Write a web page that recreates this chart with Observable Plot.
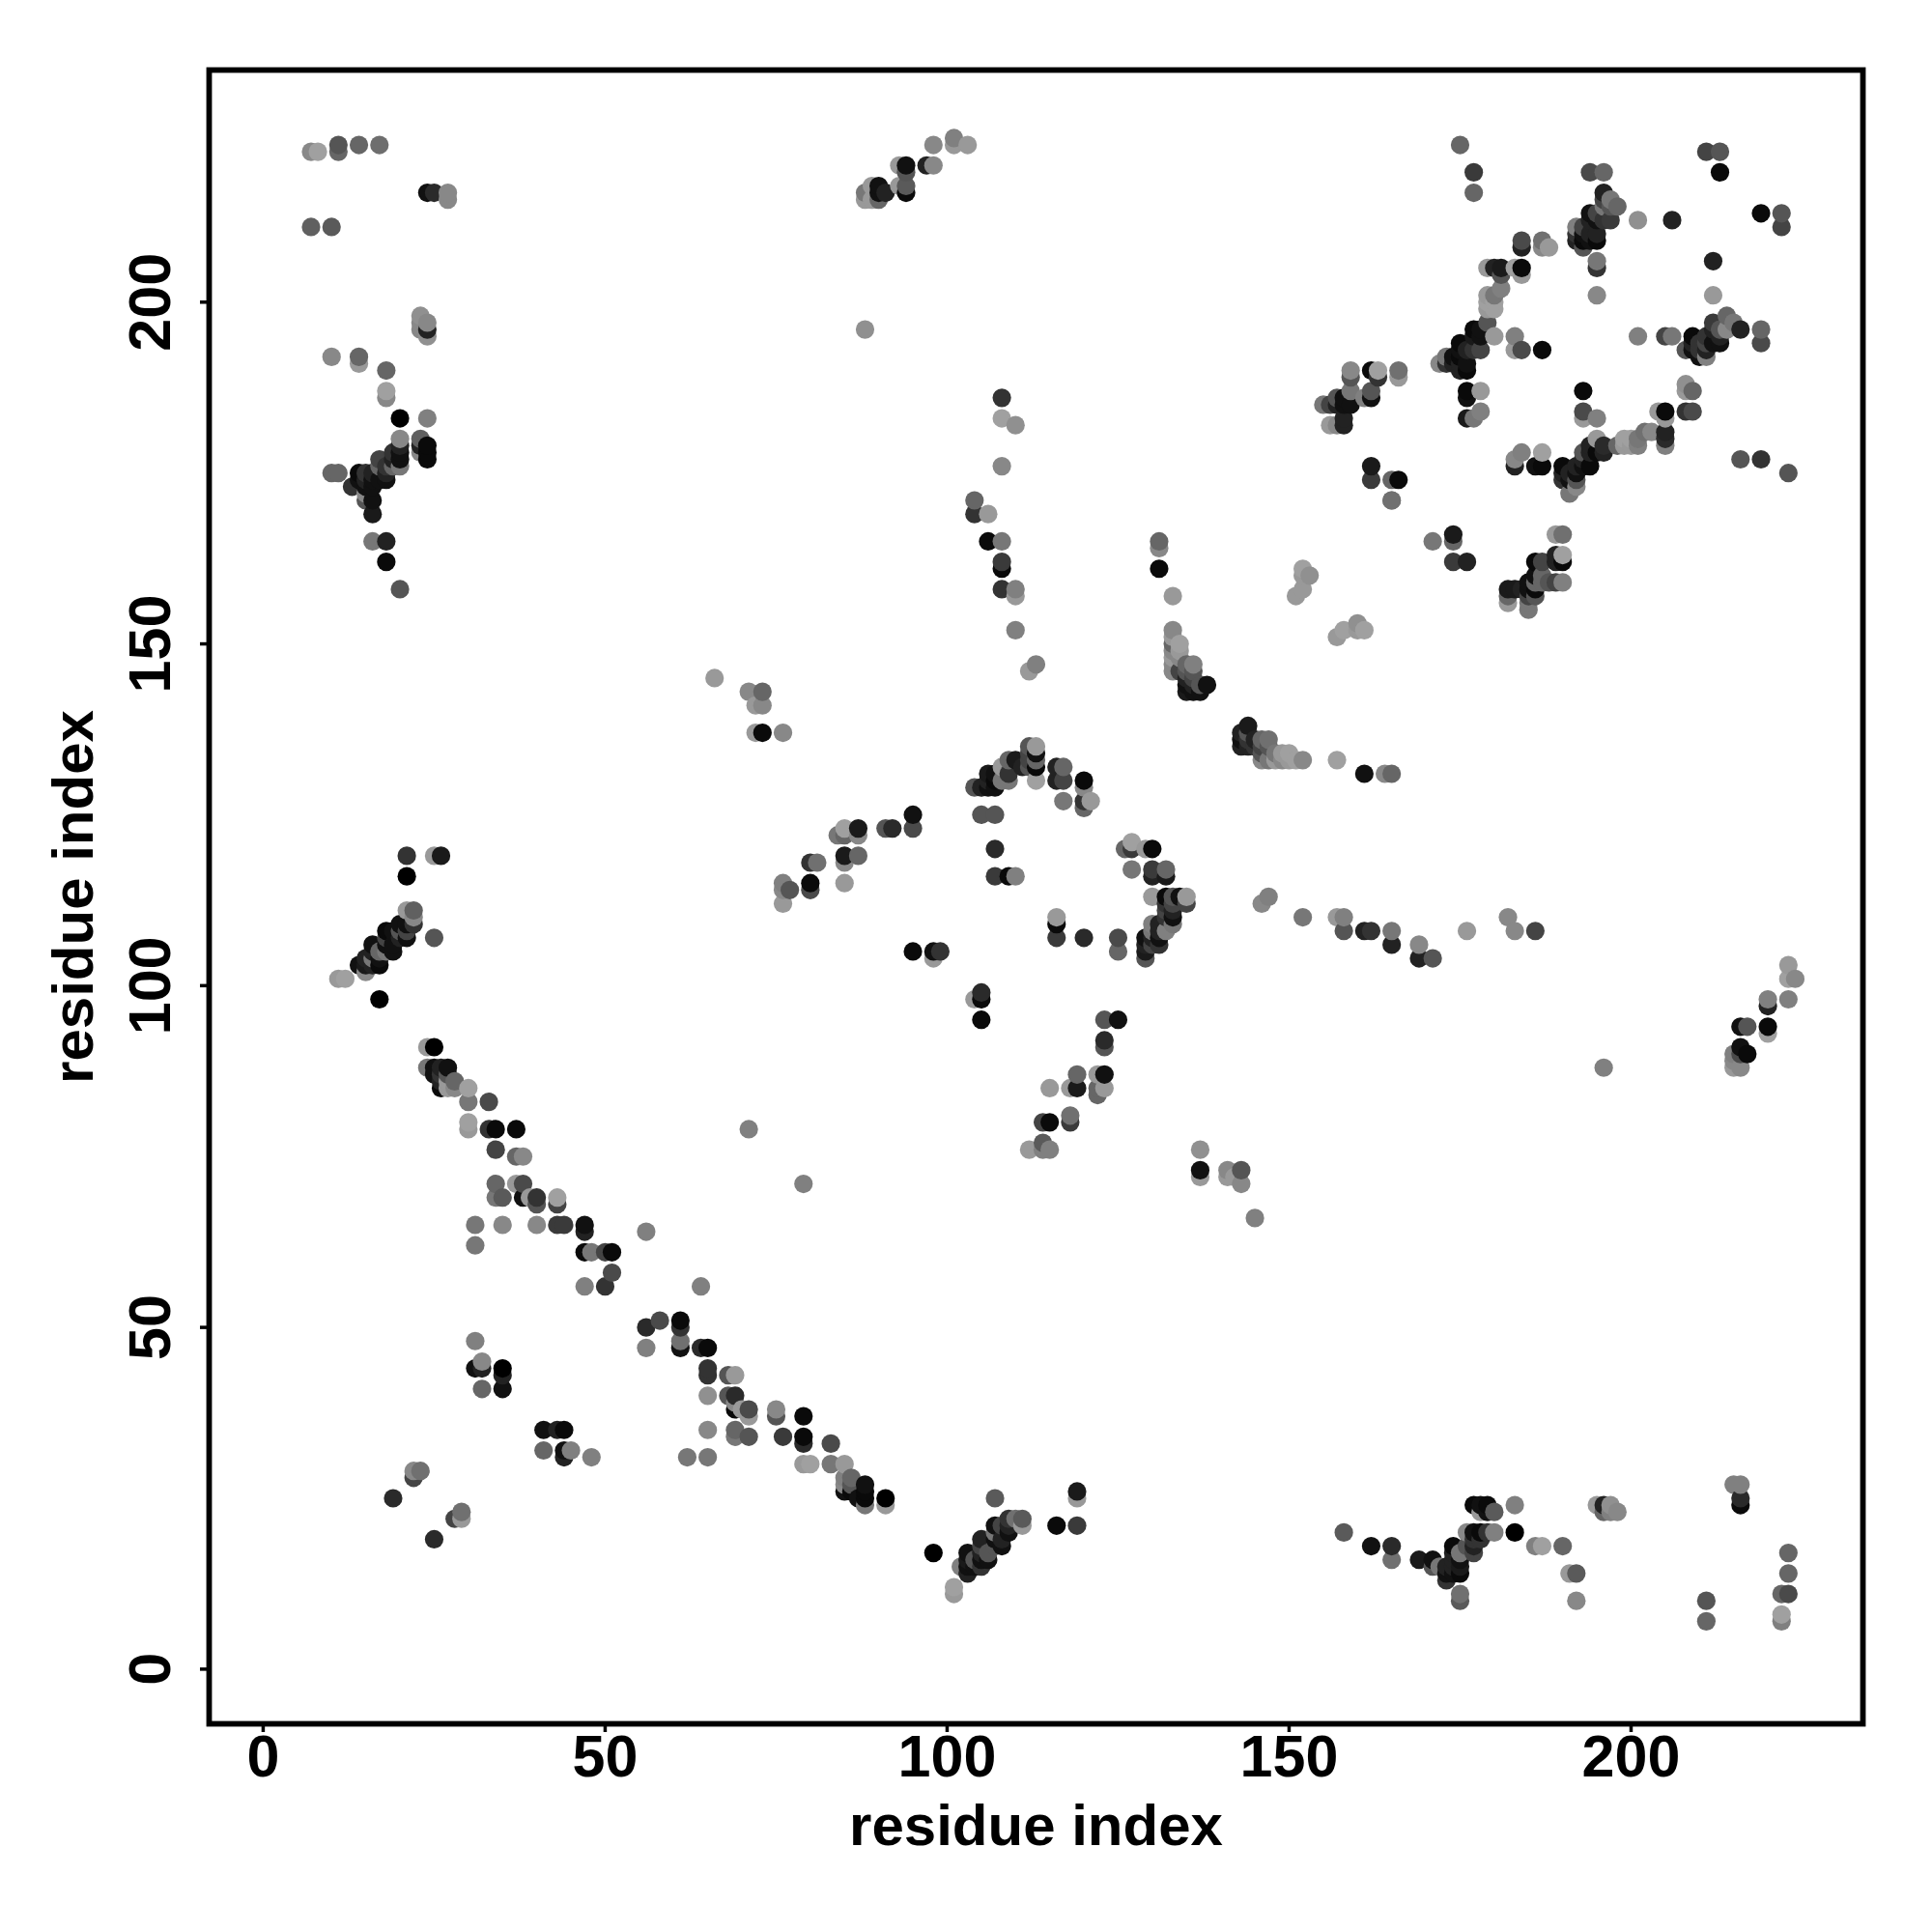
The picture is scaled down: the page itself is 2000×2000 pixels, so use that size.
<!DOCTYPE html>
<html><head><meta charset="utf-8">
<style>html,body{margin:0;padding:0;background:#fff}svg{display:block}</style>
<script src="https://cdn.jsdelivr.net/npm/d3@7"></script>
<script src="https://cdn.jsdelivr.net/npm/@observablehq/plot@0.6"></script>
</head><body><div id="chart"></div>
<script>
const axisTitle = "residue index";
const tickValues = [0, 50, 100, 150, 200];
// each contact: [residue x, residue y, grey level 0-255]
const topLeft = [[7,222,136],[8,222,160],[11,222,102],[11,223,85],[14,223,102],[17,223,110],[24,216,17],[25,216,42],[27,215,136],[27,216,136],[7,211,96],[10,211,90],
[23,198,144],[23,197,136],[23,196,136],[24,195,144],[24,196,34],[24,197,136],[10,192,136],[14,191,153],[14,192,102],[18,190,102],[18,186,136],[18,187,160]];
const leftArm = [[20,183,0],[24,183,128],[20,180,136],[23,180,96],[23,179,34],[23,178,136],[24,177,10],[24,178,10],[24,179,10],[19,178,51],[19,177,34],[20,176,119],[20,177,17],[20,178,17],[20,179,34],
[17,177,68],[17,176,102],[18,176,51],[18,175,34],[18,174,17],[19,176,102],[10,175,102],[11,175,102],[14,175,10],[15,175,51],[13,173,51],[14,174,17],[15,174,34],[15,173,17],[16,175,34],[16,174,17],[17,174,17],[16,173,17],
[15,172,136],[15,171,85],[16,171,17],[16,169,26],[16,165,119],[18,165,34],[18,162,10],[20,158,85]];
const helixLeft = [[21,119,51],[25,119,153],[26,119,26],[21,116,0],[21,111,153],[22,111,96],[22,110,136],[22,109,51],[21,109,17],[21,108,68],[21,107,17],[20,109,17],[20,108,85],[20,107,34],
[18,108,10],[19,108,17],[19,106,17],[19,105,17],[18,107,68],[18,106,17],[16,106,17],[17,105,102],[16,105,34],[18,105,119],[17,104,17],[16,104,119],[15,104,34],[14,103,17],[15,103,26],[17,103,10],[16,103,34],[15,102,136],[11,101,153],[12,101,160],[25,107,85],[17,98,0]];
const diagonalA = [[24,91,153],[25,91,0],[24,88,119],[25,88,17],[26,88,34],[27,88,17],[25,87,17],[26,87,51],[27,87,85],[26,85,10],[27,86,153],[26,86,34],[28,86,102],[28,85,136],[27,85,153],[30,85,160],[30,83,119],[33,83,74],
[30,80,160],[30,79,153],[33,79,51],[34,79,10],[37,79,10],[71,79,128],[34,76,68],[37,75,102],[38,75,136],[34,71,102],[37,71,153],[38,71,74],[79,71,128],[34,69,119],[35,69,90],[38,69,17],[39,69,153],[40,69,51],[40,68,85],[43,69,160],[43,68,68],
[31,65,119],[35,65,136],[40,65,136],[43,65,58],[44,65,58],[47,65,17],[47,64,34],[56,64,128],[31,62,119],[47,61,10],[48,61,119],[50,61,68],[51,61,10],[51,58,74],[47,56,128],[50,56,51],[64,56,128]];
const diagonalB = [[56,50,42],[58,51,74],[61,51,10],[61,50,51],[61,48,112],[61,47,17],[56,47,128],[64,47,42],[65,47,10],[65,44,51],[65,43,51],[68,43,85],[69,43,153],[65,40,144],[68,40,85],[69,40,42],[69,39,136],[69,38,10],[70,38,153],[71,38,74],[71,37,153],
[65,35,136],[69,35,102],[69,34,119],[71,34,85],[62,31,119],[65,31,119],[75,38,136],[75,37,85],[76,34,58],[79,37,10],[79,34,10],[79,33,42],[83,33,74],[79,30,153],[80,30,160],[83,30,119],[85,30,153],
[85,28,128],[86,28,102],[85,27,136],[86,27,85],[85,26,17],[86,26,10],[87,25,17],[88,27,17],[88,26,10],[88,25,10],[88,24,119],[91,25,0],[91,24,153]];
const lowerLeft = [[31,48,128],[32,45,136],[31,44,17],[32,44,34],[35,44,0],[35,43,34],[35,41,17],[32,41,102],[41,35,17],[43,35,34],[44,35,10],[41,32,102],[44,32,17],[45,32,128],[44,31,34],[48,31,128],[22,29,136],[23,29,112],[22,28,68],[19,25,42],[29,23,112],[28,22,68],[29,22,153],[25,19,42]];
const lowerMiddle = [[98,17,0],[101,12,160],[101,11,153],[102,15,128],[103,17,17],[103,16,26],[103,15,17],[103,14,34],[104,15,17],[104,16,85],[105,19,34],[105,18,68],[105,17,34],[105,16,17],[105,15,51],[106,16,17],[106,17,85],[107,21,17],[107,20,119],[107,19,17],[107,18,85],[107,25,90],[108,18,17],[108,19,34],[108,21,68],[109,22,51],[109,20,17],[109,21,34],[110,22,112],[111,22,90],[111,21,153],[116,21,10],[119,21,58],[119,26,26],[119,25,153]];
const lowerRight = [[158,20,90],[162,18,17],[165,18,42],[165,16,112],[169,16,26],[171,16,17],[171,15,85],[172,15,119],[173,14,17],[173,15,34],[173,13,51],[174,18,10],[174,17,34],[174,16,34],[174,15,34],[174,14,17],[175,14,10],[175,15,26],[175,16,17],[175,17,119],[175,11,112],[175,10,90],
[176,18,85],[177,17,68],[177,18,34],[177,20,17],[176,20,136],[177,19,51],[178,20,10],[178,19,51],[179,20,51],[180,20,128],[183,20,0],[183,24,128],[177,24,10],[178,24,17],[179,24,10],[178,23,153],[179,23,17],[180,23,90],
[186,18,128],[187,18,160],[190,18,102],[191,14,153],[192,14,90],[192,10,136],[195,24,153],[196,24,34],[196,23,102],[197,24,144],[197,23,128],[198,23,136],[215,27,128],[216,27,128],[216,25,42],[216,24,10],[211,10,85],[211,7,102],[223,17,102],[223,14,102],[222,11,102],[223,11,74],[222,8,160],[222,7,128]];
const centralLeft = [[72,137,153],[73,137,10],[76,137,136],[76,115,128],[76,114,136],[77,114,85],[76,112,153],[80,118,51],[81,118,112],[80,115,10],[80,114,74],[84,122,119],[85,122,102],[85,123,160],[87,123,26],[87,122,136],[85,119,26],[85,118,136],[87,119,102],[85,115,153],[91,123,85],[92,123,42],[95,125,17],[95,123,74],
[95,105,10],[98,105,17],[98,104,153],[99,105,51],[104,98,153],[105,99,42],[105,98,10],[105,95,10],[66,145,153],[71,143,136],[72,141,153],[73,143,102],[73,141,136]];
const centralArc = [[107,120,42],[107,116,58],[109,116,10],[110,116,128],[105,125,85],[107,125,85],[104,129,85],[105,129,34],[106,129,17],[107,129,17],[106,130,34],[107,130,10],[106,131,26],[107,131,17],[108,130,119],[109,130,119],[108,132,153],[109,131,51],[109,133,102],[110,133,26],[111,132,34],[112,135,85],[112,134,68],[112,133,68],[112,132,85],[113,135,153],[113,134,17],[113,133,102],[113,132,10],[113,130,160],
[116,132,34],[117,132,102],[116,130,34],[117,130,68],[117,127,119],[120,130,10],[120,129,136],[120,127,51],[120,126,102],[121,127,153]];
const centralRing = [[126,120,102],[127,121,160],[127,120,58],[129,120,153],[130,120,10],[127,117,119],[130,117,58],[130,116,34],[132,117,102],[132,116,26],[130,113,153],[132,113,10],[133,113,85],[134,113,17],[135,113,153],[135,112,68],[132,112,51],[133,112,68],[132,111,68],[133,111,34],[133,110,17],[132,110,51],[133,109,119],[130,109,128],[131,109,34],[132,108,128],[131,108,34],[130,108,119],[129,107,17],[130,107,34],[131,107,17],[129,106,34],[130,106,68],[131,106,51],[129,105,26],[129,104,85],
[116,110,153],[116,109,10],[116,107,58],[120,107,42],[125,107,74],[125,105,102]];
const centralLower = [[123,95,85],[125,95,17],[123,92,42],[123,91,85],[119,87,102],[122,87,153],[123,87,17],[118,85,153],[119,85,26],[122,85,102],[123,85,153],[122,84,102],[115,85,153],[118,81,112],[118,80,58],[114,80,68],[115,80,10],[112,76,153],[114,77,90],[114,76,128],[115,76,128],[137,76,144],[137,73,17],[137,72,153],[141,73,136],[141,72,153],[142,72,153],[143,73,85],[143,71,136],[145,66,128]];
const midRow = [[146,112,136],[147,113,128],[152,110,119],[157,110,153],[158,110,128],[158,108,85],[161,108,34],[162,108,51],[165,108,119],[165,106,34],[169,106,136],[169,104,34],[171,104,85],[176,108,153],[182,110,136],[183,108,136],[186,108,68],[196,88,128]];
const rightEdge = [[223,103,153],[223,98,128],[224,101,136],[223,101,160],[220,98,128],[220,97,34],[216,94,17],[217,94,85],[220,94,10],[220,93,160],[215,90,128],[216,91,17],[217,90,10],[215,89,136],[215,88,153],[216,88,136],[216,90,74]];
const strandMiddle = [[131,165,102],[131,164,136],[131,161,10],[133,157,153],[133,152,136],[134,150,160],[133,151,153],[133,150,102],[133,149,136],[133,148,153],[133,147,136],[133,146,136],[134,149,153],[134,148,136],[135,147,102],[136,147,128],[134,146,68],[135,146,85],[136,146,85],[135,145,34],[136,145,68],[135,144,17],[136,144,34],[137,144,85],[135,143,26],[136,143,17],[137,143,17],[138,144,17],
[113,147,128],[112,146,153],[110,152,128],[110,158,128],[110,157,153],[108,158,51],[108,162,58],[108,161,10],[108,165,119],[106,165,10],[106,169,153],[104,171,102],[104,169,51],[108,186,51],[108,183,160],[110,182,144],[108,176,136],
[151,157,153],[152,158,153],[152,161,160],[153,160,144],[152,160,153],[157,151,153],[158,152,160],[160,153,144],[161,152,160],[160,152,153]];
const strandRight = [[144,138,26],[143,137,34],[144,137,85],[143,136,17],[144,136,51],[143,135,34],[144,135,34],[145,136,34],[146,136,102],[147,136,112],[145,135,51],[146,135,68],[147,135,85],[146,134,85],[148,134,119],[149,134,153],[150,134,160],[146,133,136],[147,133,119],[148,133,153],[149,133,136],[150,133,153],[151,133,160],[152,133,136],[157,133,160],[161,131,17],[164,131,136],[165,131,102],
[171,165,119],[174,166,26],[174,165,102],[174,162,58],[176,162,34],[165,171,112]];
const topMiddle = [[98,223,136],[101,224,128],[101,223,153],[103,223,153],[97,220,34],[98,220,136],[93,220,153],[94,220,17],[94,219,85],[93,217,153],[94,217,90],[94,216,10],[90,217,17],[91,216,34],[90,216,17],[89,217,153],[89,215,153],[90,215,102],[88,216,119],[88,215,153],[88,196,144]];
const upperRightA = [[175,223,102],[177,219,58],[177,216,102],[211,222,68],[213,222,85],[213,219,10],[194,219,74],[196,219,102],[196,216,34],[197,215,119],[198,214,102],[196,215,68],[196,214,119],[197,214,85],[197,212,58],[194,213,17],[195,212,17],[194,212,34],[196,212,51],[195,213,68],
[192,211,128],[193,211,68],[192,210,51],[193,210,17],[194,210,34],[195,210,34],[192,209,34],[193,209,10],[195,209,10],[194,209,17],[193,208,85],[201,212,144],[206,212,34],[219,213,10],[222,213,85],[222,211,68],[184,209,74],[184,208,34],[187,209,112],[187,208,136],[188,208,153],
[179,205,153],[180,205,34],[181,205,26],[183,205,160],[184,205,10],[184,204,153],[181,204,85],[195,206,119],[195,205,51],[195,201,136],[212,206,34],[212,201,153]];
const upperRightB = [[181,202,128],[180,201,119],[179,201,153],[179,200,160],[180,200,160],[180,199,160],[179,199,153],[179,197,85],[177,196,10],[178,196,17],[177,195,26],[178,195,17],[180,195,153],[178,193,68],[177,193,51],[175,194,10],[175,193,17],[176,193,34],[174,192,17],[175,192,10],[176,191,17],[175,191,34],[174,191,34],[173,192,119],[172,191,136],[173,191,51],[176,190,10],[175,190,34],
[183,195,128],[183,193,153],[184,193,74],[187,193,10],[201,195,128],[205,195,68],[206,195,119],[219,196,102],[219,194,74],[216,196,34],[214,198,102],[215,197,119],[212,197,58],[214,196,136],[213,196,85],[212,196,34],[211,195,51],[213,195,34],[209,195,10],[210,194,51],[213,194,17],[212,194,17],[211,194,68],[209,194,34],[208,193,85],[209,193,17],[210,193,51],[211,193,34],[210,192,17],[211,192,128],
[208,188,144],[208,187,153],[209,187,102],[204,184,153],[205,184,10],[208,184,51],[209,184,74],[205,183,153],[193,187,10],[193,184,74],[193,183,153],[195,183,128],[176,187,10],[178,187,153],[176,186,17],[176,183,26],[177,183,119],[178,184,128]];
const upperRightC = [[159,190,136],[159,189,85],[162,190,10],[163,190,160],[163,189,51],[166,190,112],[166,189,153],[159,187,119],[162,187,85],[162,186,17],[161,186,128],[158,186,17],[157,186,85],[155,185,119],[156,185,68],[158,185,17],[159,185,17],[157,185,34],[156,182,153],[157,182,136],[158,183,34],[158,182,34],
[195,180,153],[199,180,160],[200,180,160],[202,181,112],[201,180,119],[201,179,128],[199,179,153],[198,179,102],[196,179,42],[200,179,153],[203,181,136],[205,181,34],[205,180,42],[205,179,128],[194,179,34],[193,178,85],[194,178,34],[195,178,10],[196,178,34],[194,176,10],[193,177,34],[192,176,34],[193,176,17],
[190,176,10],[191,175,34],[190,175,34],[192,175,17],[191,174,17],[190,174,51],[192,174,85],[192,173,136],[191,172,119],[183,177,136],[184,178,128],[187,178,160],[183,176,34],[186,176,17],[187,176,10],[162,176,26],[162,174,58],[165,174,102],[166,174,10],[165,171,112],[216,177,85],[219,177,51],[223,175,85]];
const upperRightD = [[189,166,153],[190,166,112],[190,163,160],[190,162,10],[189,163,34],[187,162,68],[186,162,10],[189,162,34],[188,159,85],[190,159,128],[189,159,68],[187,159,102],[186,159,102],[186,160,17],[187,160,102],[182,158,26],[183,158,26],[182,157,102],[182,156,153],[185,159,17],[185,158,17],[186,158,10],[185,157,68],[186,157,85],[185,156,119],[185,155,119],[184,158,34]];

const contacts = d3.sort(
  [topLeft, leftArm, helixLeft, diagonalA, diagonalB, lowerLeft, lowerMiddle, lowerRight, centralLeft, centralArc, centralRing, centralLower, midRow, rightEdge, strandMiddle, strandRight, topMiddle, upperRightA, upperRightB, upperRightC, upperRightD].flat(),
  d => d[0], d => d[1]
).map(([i, j, level]) => ({i, j, level}));

const font = "'Liberation Sans', Arial, sans-serif";
const chart = Plot.plot({
  width: 2000, height: 2000,
  marginLeft: 216, marginRight: 72, marginTop: 72, marginBottom: 216,
  style: {background: "#fff", fontFamily: font},
  x: {domain: [-7.9, 233.9]},
  y: {domain: [-8, 233.96]},
  color: {type: "linear", domain: [0, 255], range: ["#000", "#fff"]},
  marks: [
    Plot.dot(contacts, {x: "i", y: "j", fill: "level", r: 9.6, stroke: "none"}),
    Plot.frame({stroke: "#000", strokeWidth: 5.8}),
    Plot.axisX({ticks: tickValues, tickFormat: d => String(d), tickSize: 9, strokeWidth: 3.5, fontSize: 61, fontWeight: "bold", fontFamily: font, fill: "#000", tickPadding: 2, label: null}),
    Plot.axisY({ticks: tickValues, tickFormat: d => String(d), tickSize: 9, strokeWidth: 3.5, fontSize: 61, fontWeight: "bold", fontFamily: font, fill: "#000", tickPadding: 32, tickRotate: -90, label: null}),
    Plot.text([axisTitle], {frameAnchor: "bottom", dy: 125, text: d => d, fontSize: 60, fontWeight: "bold", fontFamily: font, fill: "#000", lineAnchor: "bottom"}),
    Plot.text([axisTitle], {frameAnchor: "left", dx: -121, text: d => d, rotate: -90, textAnchor: "middle", fontSize: 60, fontWeight: "bold", fontFamily: font, fill: "#000", lineAnchor: "bottom"})
  ]
});
document.getElementById("chart").appendChild(chart);
</script></body></html>
